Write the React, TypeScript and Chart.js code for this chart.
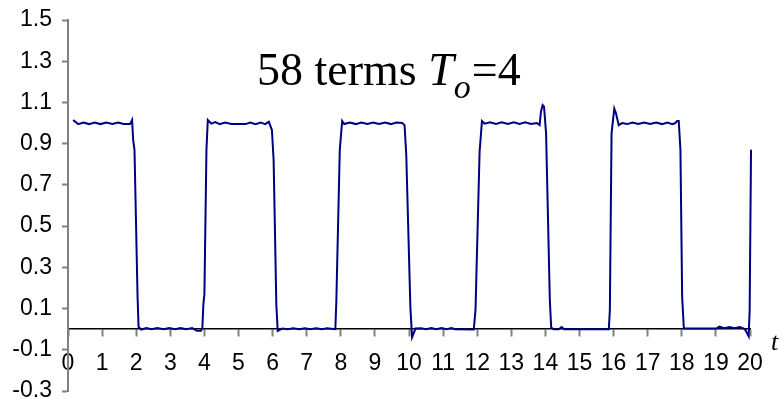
import React, { useEffect, useRef } from 'react';
import { Chart, registerables } from 'chart.js';

Chart.register(...registerables);

const seriesT = [
  0.15, 0.30, 0.45, 0.62, 0.78, 0.95, 1.12, 1.30, 1.47, 1.63, 1.82, 1.88,
  1.91, 1.95, 2.04, 2.07,
  2.15, 2.30, 2.45, 2.62, 2.80, 2.97, 3.14, 3.30, 3.47, 3.64, 3.78, 3.90, 3.94,
  3.97, 4.00, 4.06, 4.10,
  4.20, 4.32, 4.45, 4.60, 4.80, 5.00, 5.20, 5.35, 5.50, 5.65, 5.78, 5.89,
  5.98, 6.03, 6.11, 6.15,
  6.28, 6.45, 6.60, 6.78, 6.95, 7.10, 7.28, 7.45, 7.60, 7.84,
  7.87, 7.97, 8.04,
  8.10, 8.27, 8.44, 8.60, 8.78, 8.95, 9.12, 9.30, 9.47, 9.63, 9.80, 9.87,
  9.92, 10.04, 10.09,
  10.19, 10.35, 10.50, 10.65, 10.80, 10.95, 11.10, 11.25, 11.35, 11.90,
  11.95, 12.07, 12.14,
  12.22, 12.38, 12.55, 12.72, 12.90, 13.07, 13.24, 13.41, 13.58, 13.75, 13.83,
  13.87, 13.92, 13.96, 14.02, 14.13, 14.17,
  14.24, 14.40, 14.47, 14.55, 15.86,
  15.89, 15.94, 16.02, 16.07, 16.15,
  16.25, 16.40, 16.55, 16.72, 16.90, 17.07, 17.25, 17.42, 17.58, 17.72, 17.81, 17.86, 17.91,
  17.96, 18.01, 18.06,
  19.01, 19.10, 19.25, 19.40, 19.55, 19.70, 19.82, 19.87, 19.96,
  19.99, 20.03,
];

const seriesY = [
  1.015, 0.995, 1.003, 0.995, 1.003, 0.995, 1.003, 0.996, 1.003, 0.996, 0.995, 1.015,
  0.92, 0.87, 0.157, 0.01,
  -0.002, 0.005, 0.0, 0.005, 0.0, 0.005, 0.0, 0.005, 0.0, 0.005, -0.008, -0.008, 0.005,
  0.12, 0.17, 0.87, 1.015,
  0.997, 1.005, 0.995, 1.003, 0.996, 0.995, 0.995, 1.003, 0.995, 1.003, 0.995, 1.006,
  0.966, 0.82, 0.117, -0.008,
  0.003, 0.0, 0.004, 0.0, 0.004, 0.0, 0.004, 0.0, 0.004, 0.0,
  0.14, 0.87, 1.01,
  0.995, 1.003, 0.995, 1.003, 0.995, 1.003, 0.995, 1.003, 0.995, 1.003, 1.0, 0.99,
  0.845, 0.108, -0.04,
  0.003, 0.004, 0.0, 0.005, 0.0, 0.005, 0.0, 0.005, 0.0, -0.002,
  0.092, 0.86, 1.01,
  0.997, 1.004, 0.996, 1.004, 0.996, 1.004, 0.996, 1.004, 0.996, 1.0, 0.99,
  1.055, 1.087, 1.08, 0.95, 0.14, 0.008,
  0.0, 0.0, 0.01, 0.0, 0.0,
  0.092, 0.95, 1.07, 1.047, 0.99,
  1.0, 0.995, 1.003, 0.995, 1.003, 0.995, 1.003, 0.995, 1.003, 0.995, 1.0, 1.01, 1.01,
  0.87, 0.157, 0.003,
  0.003, 0.012, 0.005, 0.01, 0.004, 0.01, 0.003, -0.005, -0.035,
  0.092, 0.87,
];

const xTickValues = [0, 1, 2, 3, 4, 5, 6, 7, 8, 9, 10, 11, 12, 13, 14, 15, 16, 17, 18, 19, 20];
const yTickValues = [-0.3, -0.1, 0.1, 0.3, 0.5, 0.7, 0.9, 1.1, 1.3, 1.5];

const titleLead = '58 terms ';
const titleSymbol = 'T';
const titleSubscript = 'o';
const titleTail = '=4';
const xAxisName = 't';

const SERIF = '"Liberation Serif", "Times New Roman", serif';
const SANS = '"Liberation Sans", Arial, sans-serif';

export default function App() {
  const ref = useRef<HTMLCanvasElement | null>(null);

  useEffect(() => {
    const canvas = ref.current;
    if (!canvas) return;

    const annotations = {
      id: 'annotations',
      afterDraw(chart: any) {
        const ctx = chart.ctx as CanvasRenderingContext2D;
        ctx.save();
        ctx.fillStyle = '#000000';
        ctx.textAlign = 'left';
        ctx.textBaseline = 'alphabetic';
        const base = 85;
        let x = 257;
        ctx.font = `46px ${SERIF}`;
        ctx.fillText(titleLead, x, base);
        x += ctx.measureText(titleLead).width;
        ctx.font = `italic 46px ${SERIF}`;
        ctx.fillText(titleSymbol, x, base);
        x += ctx.measureText(titleSymbol).width;
        ctx.font = `italic 34px ${SERIF}`;
        ctx.fillText(titleSubscript, x, base + 13);
        x += ctx.measureText(titleSubscript).width + 1;
        ctx.font = `46px ${SERIF}`;
        ctx.fillText(titleTail, x, base);

        ctx.font = `italic 26px ${SERIF}`;
        ctx.fillText(xAxisName, 771, 350);
        ctx.restore();
      },
    };

    const chart = new Chart(canvas, {
      type: 'line',
      data: {
        datasets: [
          {
            data: seriesT.map((t, i) => ({ x: t, y: seriesY[i] })),
            borderColor: '#000080',
            borderWidth: 2,
            pointRadius: 0,
            tension: 0,
            fill: false,
            clip: 6,
          },
        ],
      },
      options: {
        animation: false,
        responsive: false,
        devicePixelRatio: 1,
        layout: { padding: { left: 0, top: 20, right: 32, bottom: 8 } },
        plugins: { legend: { display: false }, tooltip: { enabled: false } },
        scales: {
          x: {
            type: 'linear',
            position: { y: 0 },
            min: 0,
            max: 20,
            afterBuildTicks: (s: any) => {
              s.ticks = xTickValues.map((v) => ({ value: v }));
            },
            afterFit: (s: any) => {
              s.paddingTop = 0;
              s.paddingBottom = 0;
            },
            ticks: {
              autoSkip: false,
              maxRotation: 0,
              padding: 14,
              color: '#000000',
              font: { family: SANS, size: 23 },
              callback: (v: any) => String(v),
            },
            grid: {
              drawOnChartArea: false,
              drawTicks: true,
              tickLength: 7,
              tickColor: '#808080',
              tickWidth: 2,
            },
            border: { display: true, color: '#000000', width: 1.5 },
          },
          y: {
            type: 'linear',
            position: 'left',
            min: -0.3,
            max: 1.5,
            afterBuildTicks: (s: any) => {
              s.ticks = yTickValues.map((v) => ({ value: v }));
            },
            afterFit: (s: any) => {
              s.width = 68;
              s.paddingTop = 0;
              s.paddingBottom = 0;
            },
            ticks: {
              autoSkip: false,
              padding: 10,
              color: '#000000',
              font: { family: SANS, size: 23, lineHeight: 0.6 },
              callback: (v: any) => Number(v).toFixed(1),
            },
            grid: {
              drawOnChartArea: false,
              drawTicks: true,
              tickLength: 6,
              tickColor: '#808080',
              tickWidth: 2,
            },
            border: { display: true, color: '#808080', width: 2 },
          },
        },
      },
      plugins: [annotations],
    });

    return () => chart.destroy();
  }, []);

  return (
    <div style={{ position: 'absolute', left: 0, top: 0, width: 782, height: 399, background: '#ffffff' }}>
      <canvas ref={ref} width={782} height={399} style={{ display: 'block' }} />
    </div>
  );
}
